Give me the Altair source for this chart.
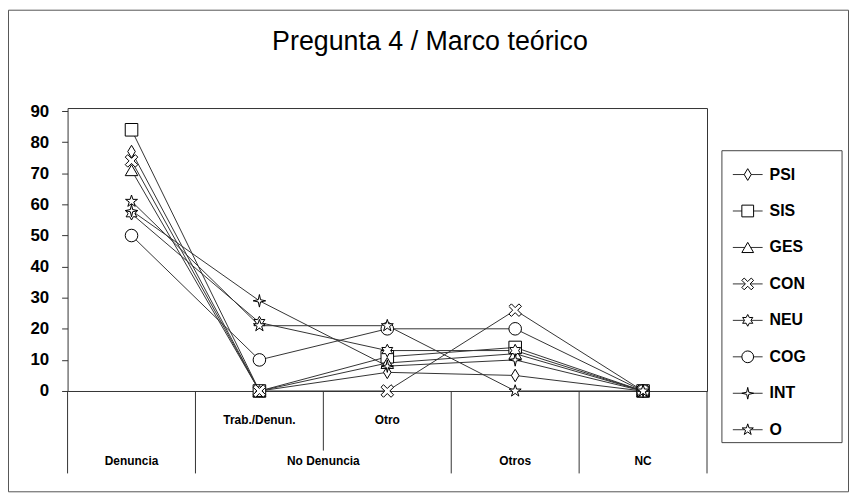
import altair as alt
import pandas as pd

# ---------------- data ----------------
title_text = "Pregunta 4 / Marco teórico"
categories = ["Denuncia", "Trab./Denun.", "Otro", "Otros", "NC"]
sublabels = ["", "Trab./Denun.", "Otro", "", ""]
groups = ["Denuncia", "No Denuncia", "No Denuncia", "Otros", "NC"]
series = ["PSI", "SIS", "GES", "CON", "NEU", "COG", "INT", "O"]

PSI = [77, 0, 6, 5, 0]
SIS = [84, 0, 11, 14, 0]
GES = [71, 0, 9, 12, 0]
CON = [74, 0, 0, 26, 0]
NEU = [57, 22, 13, 13, 0]
COG = [50, 10, 20, 20, 0]
INT = [58, 29, 8, 10, 0]
O = [61, 21, 21, 0, 0]
values = [PSI, SIS, GES, CON, NEU, COG, INT, O]
y_ticks = list(range(0, 100, 10))

# ---------------- styles ----------------
shapes = [
    "M0,-1L0.6,0L0,1L-0.6,0Z",  # diamond
    "square",
    "triangle-up",
    "M-1,-0.6L-0.6,-1L0,-0.4L0.6,-1L1,-0.6L0.4,0L1,0.6L0.6,1L0,0.4L-0.6,1L-1,0.6L-0.4,0Z",  # X
    "M0,-1L0.275,-0.476L0.866,-0.5L0.55,0L0.866,0.5L0.275,0.476L0,1L-0.275,0.476L-0.866,0.5L-0.55,0L-0.866,-0.5L-0.275,-0.476Z",  # 6-star
    "circle",
    "M0,-1L0.18,-0.18L1,0L0.18,0.18L0,1L-0.18,0.18L-1,0L-0.18,-0.18Z",  # 4-point cross
    "M0,-1L0.2245,-0.309L0.951,-0.309L0.363,0.118L0.588,0.809L0,0.382L-0.588,0.809L-0.363,0.118L-0.951,-0.309L-0.2245,-0.309Z",  # 5-star
]
FONT = "Liberation Sans"
W, H = 644, 285
PAD = {"left": 60, "top": 99, "right": 143, "bottom": 102}

# ---------------- tables ----------------
rows = []
for s, vals in zip(series, values):
    for i, v in enumerate(vals):
        rows.append({"series": s, "idx": i, "cat": categories[i], "value": v})
df = pd.DataFrame(rows)

bounds_long, bounds_short = [], []
for b in range(len(categories) + 1):
    if 0 < b < len(categories) and groups[b - 1] == groups[b]:
        bounds_short.append(b - 0.5)
    else:
        bounds_long.append(b - 0.5)
df_long = pd.DataFrame({"b": bounds_long})
df_short = pd.DataFrame({"b": bounds_short})

df_sub = pd.DataFrame({"idx": list(range(len(categories))), "label": sublabels})
df_sub = df_sub[df_sub["label"] != ""]

grp_order = []
for g in groups:
    if g not in grp_order:
        grp_order.append(g)
df_grp = pd.DataFrame({
    "label": grp_order,
    "pos": [sum(i for i, gg in enumerate(groups) if gg == g) / groups.count(g) for g in grp_order],
})
df_one = pd.DataFrame({"t": [title_text]})
df_leg = pd.DataFrame({"series": series})

xscale = alt.Scale(domain=[-0.5, len(categories) - 0.5], nice=False, zero=False)
yscale = alt.Scale(domain=[0, 91], nice=False)
shape_scale = alt.Scale(domain=series, range=shapes)

frame = alt.Chart(df_one).mark_rect(fill=None, stroke="#555", strokeWidth=1).encode(
    x=alt.value(-59.5), x2=alt.value(W + PAD["right"] - 0.5),
    y=alt.value(-PAD["top"] + 0.5), y2=alt.value(H + PAD["bottom"] - 0.5),
)
title_mark = alt.Chart(df_one).mark_text(font=FONT, fontSize=27, color="black",
                                         align="center", baseline="alphabetic").encode(
    x=alt.value(365), y=alt.value(-58), text="t:N"
)

rules_long = alt.Chart(df_long).mark_rule(color="#333", strokeWidth=1).encode(
    x=alt.X("b:Q", scale=xscale, axis=None), y=alt.value(H), y2=alt.value(H + 83)
)
rules_short = alt.Chart(df_short).mark_rule(color="#333", strokeWidth=1).encode(
    x=alt.X("b:Q", scale=xscale, axis=None), y=alt.value(H), y2=alt.value(H + 60)
)
sub_text = alt.Chart(df_sub).mark_text(font=FONT, fontSize=12, fontWeight="bold", color="black").encode(
    x=alt.X("idx:Q", scale=xscale, axis=None), y=alt.value(H + 29), text="label:N"
)
grp_text = alt.Chart(df_grp).mark_text(font=FONT, fontSize=12, fontWeight="bold", color="black").encode(
    x=alt.X("pos:Q", scale=xscale, axis=None), y=alt.value(H + 71), text="label:N"
)

base = alt.Chart(df).encode(
    x=alt.X("idx:Q", scale=xscale, axis=None),
    y=alt.Y("value:Q", scale=yscale, title=None,
            axis=alt.Axis(values=y_ticks, tickSize=6, labelPadding=13, grid=False, domain=False,
                          labelFont=FONT, labelFontSize=17, labelFontWeight="bold",
                          labelColor="black", tickColor="#333")),
)
lines = base.mark_line(color="#333", strokeWidth=1).encode(detail="series:N")
points = base.mark_point(filled=False, fill="white", fillOpacity=1, stroke="black",
                         strokeWidth=1, size=160, opacity=1).encode(
    shape=alt.Shape("series:N", scale=shape_scale, legend=None)
)

main = alt.layer(frame, title_mark, rules_long, rules_short, sub_text, grp_text, lines, points)

leg_y = alt.Y("series:N", scale=alt.Scale(type="point", domain=series, range=[67, 324], padding=0), axis=None)
leg_box = alt.Chart(df_one).mark_rect(fill="white", stroke="#444", strokeWidth=1).encode(
    x=alt.value(659), x2=alt.value(780), y=alt.value(43), y2=alt.value(337)
)
leg_lines = alt.Chart(df_leg).mark_rule(color="#333", strokeWidth=1).encode(
    x=alt.value(670), x2=alt.value(700), y=leg_y
)
leg_pts = alt.Chart(df_leg).mark_point(filled=False, fill="white", fillOpacity=1, stroke="black",
                                       strokeWidth=1, size=140, opacity=1).encode(
    x=alt.value(685), y=leg_y, shape=alt.Shape("series:N", scale=shape_scale, legend=None)
)
leg_text = alt.Chart(df_leg).mark_text(align="left", baseline="middle", font=FONT, fontSize=16,
                                       fontWeight="bold", color="black").encode(
    x=alt.value(707), y=leg_y, text="series:N"
)
legend = alt.layer(leg_box, leg_lines, leg_pts, leg_text)

chart = alt.layer(main, legend).resolve_scale(y="independent").properties(
    width=W, height=H,
    autosize=alt.AutoSizeParams(type="none"),
    padding=PAD,
    background="white",
).configure_view(stroke="#333", strokeWidth=1)

chart.save("out.html", embed_options={"renderer": "svg", "actions": False})
